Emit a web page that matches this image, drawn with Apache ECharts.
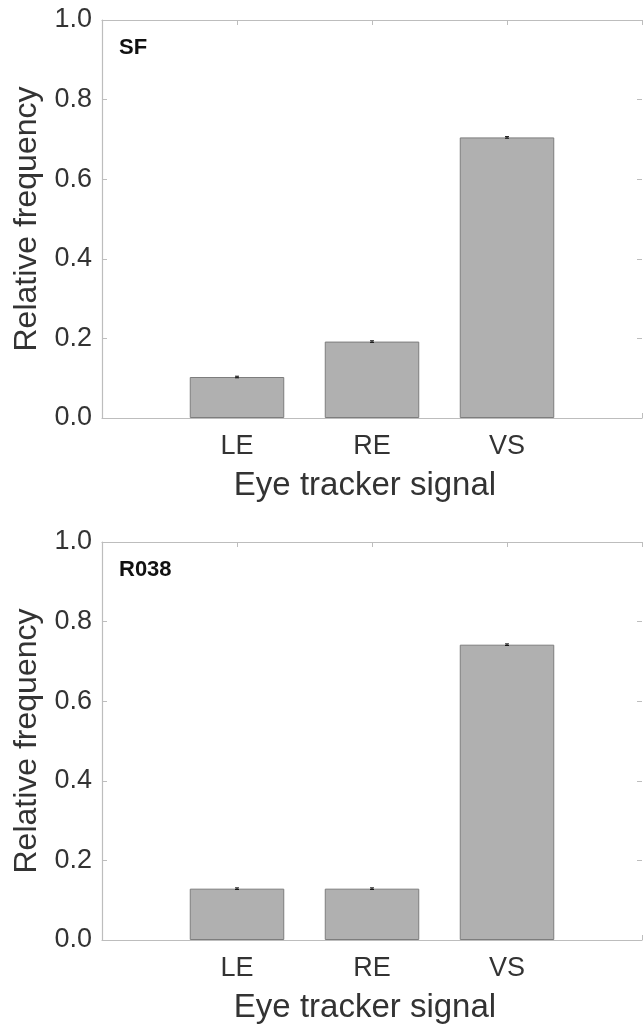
<!DOCTYPE html>
<html>
<head>
<meta charset="utf-8">
<script src="https://cdn.jsdelivr.net/npm/echarts@6/dist/echarts.min.js"></script>
<style>
  html, body { margin: 0; padding: 0; background: #fff; }
  #chart { width: 644px; height: 1026px; }
</style>
</head>
<body>
<div id="chart"></div>
<script>
// Signal categories sit at x = 1, 2, 3 on an axis running from 0 to 4
const categories = ['LE', 'RE', 'VS'];
const categoryPositions = [1, 2, 3];
const panelNames = ['SF', 'R038'];
const sfValues = [0.103, 0.192, 0.705];
const sfErrors = [0.002, 0.002, 0.002];
const r038Values = [0.129, 0.129, 0.742];
const r038Errors = [0.002, 0.002, 0.002];
const yTicks = [0, 0.2, 0.4, 0.6, 0.8, 1.0];

const FONT = 'Liberation Sans, Arial, sans-serif';
const TEXT = '#333333';
const AXIS = '#bdbdbd';

const panels = [
  { name: panelNames[0], values: sfValues, errors: sfErrors, top: 20 },
  { name: panelNames[1], values: r038Values, errors: r038Errors, top: 542 }
];
const gridLeft = 102, gridWidth = 540, gridHeight = 398;

const grid = [], xAxis = [], yAxis = [], series = [], title = [];

panels.forEach((p, i) => {
  grid.push({
    left: gridLeft, top: p.top, width: gridWidth, height: gridHeight,
    show: false, containLabel: false, outerBoundsMode: 'none'
  });

  // bottom axis with category labels
  xAxis.push({
    type: 'value', gridIndex: i, min: 0, max: 4, interval: 1, position: 'bottom',
    name: 'Eye tracker signal', nameLocation: 'middle', nameGap: 51,
    nameTextStyle: { fontFamily: FONT, fontSize: 33, color: TEXT, padding: [0, 14, 0, 0] },
    axisLine: { show: true, onZero: false, lineStyle: { color: AXIS, width: 1.2 } },
    axisTick: { show: true, inside: true, length: 5, lineStyle: { color: AXIS } },
    axisLabel: {
      fontFamily: FONT, fontSize: 27, color: TEXT, margin: 15,
      formatter: v => { const k = categoryPositions.indexOf(v); return k >= 0 ? categories[k] : ''; }
    },
    splitLine: { show: false }
  });
  // top frame line with inward ticks
  xAxis.push({
    type: 'value', gridIndex: i, min: 0, max: 4, interval: 1, position: 'top',
    axisLine: { show: true, onZero: false, lineStyle: { color: AXIS, width: 1.2 } },
    axisTick: { show: true, inside: true, length: 5, lineStyle: { color: AXIS } },
    axisLabel: { show: false }, splitLine: { show: false }
  });

  yAxis.push({
    type: 'value', gridIndex: i, min: 0, max: 1, interval: 0.2, position: 'left',
    name: 'Relative frequency', nameLocation: 'middle', nameGap: 38,
    nameTextStyle: { fontFamily: FONT, fontSize: 32, color: TEXT },
    axisLine: { show: true, onZero: false, lineStyle: { color: AXIS, width: 1.2 } },
    axisTick: { show: true, inside: true, length: 5, lineStyle: { color: AXIS } },
    axisLabel: { fontFamily: FONT, fontSize: 27, color: TEXT, margin: 10, formatter: v => v.toFixed(1) },
    splitLine: { show: false }
  });
  yAxis.push({
    type: 'value', gridIndex: i, min: 0, max: 1, interval: 0.2, position: 'right',
    axisLine: { show: false, onZero: false },
    axisTick: { show: true, inside: true, length: 5, lineStyle: { color: AXIS } },
    axisLabel: { show: false }, splitLine: { show: false }
  });

  series.push({
    type: 'bar', xAxisIndex: i * 2, yAxisIndex: i * 2,
    data: categoryPositions.map((x, k) => [x, p.values[k]]),
    barWidth: gridWidth / 4 * 0.7,
    itemStyle: { color: '#b0b0b0', borderColor: '#7d7d7d', borderWidth: 1 },
    silent: true
  });

  series.push({
    type: 'custom', xAxisIndex: i * 2, yAxisIndex: i * 2,
    data: categoryPositions.map((x, k) => [x, p.values[k], p.errors[k]]),
    renderItem: (params, api) => {
      const x = api.value(0), v = api.value(1), e = api.value(2);
      const lo = api.coord([x, v - e]), hi = api.coord([x, v + e]);
      const c = 2;
      return {
        type: 'group',
        children: [
          { type: 'line', shape: { x1: lo[0], y1: lo[1], x2: hi[0], y2: hi[1] }, style: { stroke: '#111', lineWidth: 1 } },
          { type: 'line', shape: { x1: hi[0] - c, y1: hi[1], x2: hi[0] + c, y2: hi[1] }, style: { stroke: '#111', lineWidth: 1 } },
          { type: 'line', shape: { x1: lo[0] - c, y1: lo[1], x2: lo[0] + c, y2: lo[1] }, style: { stroke: '#111', lineWidth: 1 } }
        ]
      };
    },
    z: 5, silent: true
  });

  title.push({
    text: p.name, left: 119, top: p.top + 17, padding: 0,
    textStyle: { fontFamily: FONT, fontSize: 22, fontWeight: 'bold', color: '#111' }
  });
});

const chart = echarts.init(document.getElementById('chart'), null, { renderer: 'canvas' });
chart.setOption({
  backgroundColor: '#ffffff',
  animation: false,
  title, grid, xAxis, yAxis, series
});
</script>
</body>
</html>
